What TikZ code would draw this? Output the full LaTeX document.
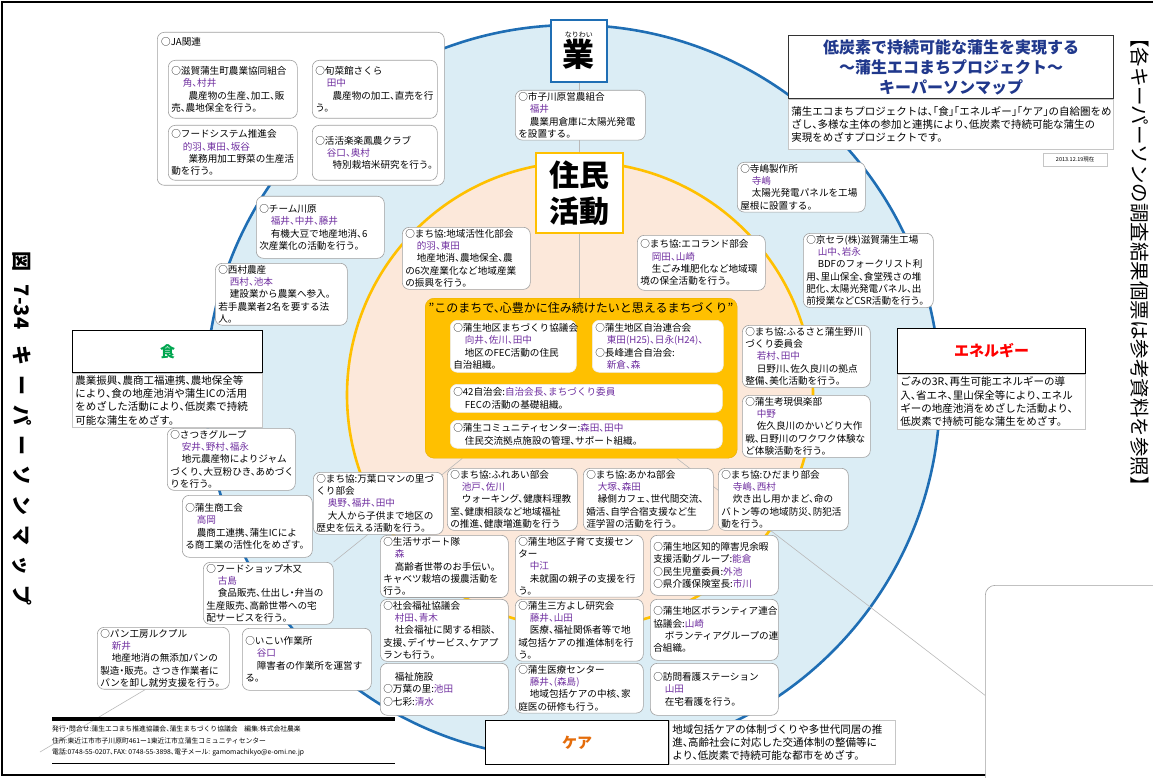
\documentclass[tikz,border=0pt]{standalone}
\usepackage{fontspec}
\setmainfont{Noto Sans CJK JP}[RawFeature=+halt]
\newfontfamily\jpfull{Noto Sans CJK JP}

\definecolor{ringblue}{RGB}{31,110,180}
\definecolor{ringfill}{RGB}{219,237,245}
\definecolor{ringgold}{RGB}{255,192,0}
\definecolor{peach}{RGB}{252,232,218}
\definecolor{coreorange}{RGB}{255,192,0}
\definecolor{namecol}{RGB}{112,48,160}
\definecolor{titlenavy}{RGB}{32,56,140}
\definecolor{shokugreen}{RGB}{0,166,80}
\definecolor{carecol}{RGB}{228,108,10}
\definecolor{boxgray}{RGB}{160,160,160}

\newcommand{\kpfont}{\fontsize{9.6}{12.3}\selectfont}
\newcommand{\descfont}{\fontsize{10.5}{13.3}\selectfont}
\newcommand{\nm}[1]{\textcolor{namecol}{#1}}
\newcommand{\ind}{\hspace*{1.2em}}
\newcommand{\indd}{\hspace*{1.8em}}

\pgfdeclarelayer{back}
\pgfdeclarelayer{links}
\pgfsetlayers{back,links,main}

\tikzset{
  kp/.style={draw=boxgray, fill=white, rounded corners=7pt, line width=0.6pt,
    anchor=north west, align=left, inner xsep=3pt, inner ysep=2pt,
    text width=#1, font=\kpfont},
  inbox/.style={kp=#1, draw=white!85!gray},
  descbox/.style={draw=gray!45, fill=white, line width=0.6pt, anchor=north west,
    align=left, inner xsep=3pt, inner ysep=2pt, text width=#1, font=\descfont},
  themebox/.style={draw=black, line width=1pt, fill=white, anchor=north west,
    font=\fontsize{15}{16}\selectfont\bfseries},
  link/.style={draw=gray!55, line width=0.6pt}
}

\begin{document}
\begin{tikzpicture}[x=1pt,y=-1pt]
\useasboundingbox (0,0) rectangle (1153,778);

\begin{pgfonlayer}{back}
\path[draw=ringblue, line width=2.6pt, fill=ringfill] (573,392) circle[radius=367pt];
\path[draw=ringgold, line width=2.6pt, fill=peach] (580,395) circle[radius=233pt];
\end{pgfonlayer}

% frame and captions
\path[draw, line width=2.4pt] (1153,2) -- (2,2) -- (2,775) -- (1153,775);
\node[rotate=-90, font=\jpfull\fontsize{20}{20}\selectfont\bfseries] (figcap) at (22,428) {図\hspace{0.7em}7-34\hspace{0.8em}{\addfontfeature{LetterSpace=50}キーパーソンマップ}};
\node[rotate=-90, font=\jpfull\fontsize{19.5}{20}\selectfont] (refnote) at (1140,262) {【各キーパーソンの調査結果個票は参考資料を参照】};

% title
\node[draw=black!80, line width=1.2pt, fill=white, anchor=north west, minimum width=325pt, minimum height=63pt, align=center, text=titlenavy, font=\fontsize{16}{20}\selectfont\bfseries] (title) at (788,35) {低炭素で持続可能な蒲生を実現する\\～蒲生エコまちプロジェクト～\\キーパーソンマップ};
\node[descbox=319pt, minimum height=50pt] (titledesc) at (title.south west) {蒲生エコまちプロジェクトは、「食」「エネルギー」「ケア」の自給圏をめ\\ざし、多様な主体の参加と連携により、低炭素で持続可能な蒲生の\\実現をめざすプロジェクトです。};
\node[draw=gray!45, fill=white, anchor=north west, minimum width=64pt, minimum height=13pt, inner sep=1pt, font=\fontsize{5.5}{6}\selectfont] (stamp) at (1043,153) {2013.12.19現在};

% centre
\node[draw=ringblue, line width=1.6pt, fill=white, minimum width=56pt, minimum height=62pt, anchor=north west, align=center, inner sep=0pt] (nariwai) at (550,19) {{\fontsize{7}{8}\selectfont なりわい}\\[1pt]{\fontsize{32}{34}\selectfont\bfseries 業}};
\node[draw=ringgold, line width=1.6pt, fill=white, minimum width=87pt, minimum height=80pt, anchor=north west, align=center, inner sep=0pt, font=\fontsize{30}{36}\selectfont\bfseries] (jumin) at (535,152) {住民\\活動};

\node[draw=coreorange!90!black, fill=coreorange, rounded corners=9pt, minimum width=312pt, minimum height=160pt, anchor=north west] (core) at (425,298) {};
\node[anchor=north, inner sep=0pt, font=\fontsize{12}{14}\selectfont] (coretitle) at (581,302) {"このまちで、心豊かに住み続けたいと思えるまちづくり"};
\node[inbox=120pt, minimum height=52pt] (kyogikai) at (450,320) {○蒲生地区まちづくり協議会\\\nm{\ind 向井、佐川、田中}\\\ind 地区のFEC活動の住民\\自治組織。};
\node[inbox=125pt, minimum height=52pt] (rengo) at (592,320) {○蒲生地区自治連合会\\\nm{\ind 東田(H25)、日永(H24)、}\\○長峰連合自治会:\\\nm{\ind 新倉、森}};
\node[inbox=266pt, minimum height=28pt] (jichi42) at (450,384) {○42自治会:\nm{自治会長、まちづくり委員}\\\ind FECの活動の基礎組織。};
\node[inbox=266pt, minimum height=28pt] (comcen) at (450,420) {○蒲生コミュニティセンター:\nm{森田、田中}\\\ind 住民交流拠点施設の管理、サポート組織。};

% JA group
\node[kp=281pt, minimum height=153pt] (ja) at (157,32) {};
\node[anchor=north west, inner sep=0pt, font=\kpfont] (jatitle) at (161,37) {○JA関連};
\node[kp=123pt, minimum height=58pt] (shiga) at (168,60) {○滋賀蒲生町農業協同組合\\\nm{\ind 角、村井}\\\indd 農産物の生産、加工、販\\売、農地保全を行う。};
\node[kp=119pt, minimum height=58pt] (shunsai) at (312,60) {○旬菜館さくら\\\nm{\ind 田中}\\\indd 農産物の加工、直売を行\\う。};
\node[kp=123pt, minimum height=55pt] (foodsys) at (168,125) {○フードシステム推進会\\\nm{\ind 的羽、東田、坂谷}\\\indd 業務用加工野菜の生産活\\動を行う。};
\node[kp=119pt, minimum height=55pt] (katsu) at (312,125) {○活活楽楽鳳農クラブ\\\nm{\ind 谷口、奥村}\\\indd 特別栽培米研究を行う。};

% upper ring
\node[kp=124pt] (ichiko) at (515,90) {○市子川原営農組合\\\nm{\ind 福井}\\\ind 農業用倉庫に太陽光発電\\を設置する。};
\node[kp=122pt, minimum height=62pt] (kawara) at (256,196) {○チーム川原\\\nm{\ind 福井、中井、藤井}\\\ind 有機大豆で地産地消、6\\次産業化の活動を行う。};
\node[kp=126pt] (nishimura) at (215,263) {○西村農産\\\nm{\ind 西村、池本}\\\ind 建設業から農業へ参入。\\若手農業者2名を要する法\\人。};
\node[kp=122pt] (kassei) at (402,227) {○まち協:地域活性化部会\\\nm{\ind 的羽、東田}\\\ind 地産地消、農地保全、農\\の6次産業化など地域産業\\の振興を行う。};
\node[kp=122pt, minimum height=55pt] (ecoland) at (637,235) {○まち協:エコランド部会\\\nm{\ind 岡田、山崎}\\\ind 生ごみ堆肥化など地域環\\境の保全活動を行う。};
\node[kp=122pt] (terashima) at (737,162) {○寺嶋製作所\\\nm{\ind 寺嶋}\\\ind 太陽光発電パネルを工場\\屋根に設置する。};
\node[kp=124pt] (kyocera) at (803,233) {○京セラ(株)滋賀蒲生工場\\\nm{\ind 山中、岩永}\\\ind BDFのフォークリスト利\\用、里山保全、食堂残さの堆\\肥化、太陽光発電パネル、出\\前授業などCSR活動を行う。};
\node[kp=122pt] (furusato) at (742,325) {○まち協:ふるさと蒲生野川\\づくり委員会\\\nm{\ind 若村、田中}\\\ind 日野川、佐久良川の拠点\\整備、美化活動を行う。};
\node[kp=122pt] (kogen) at (742,395) {○蒲生考現倶楽部\\\nm{\ind 中野}\\\ind 佐久良川のかいどり大作\\戦、日野川のワクワク体験な\\ど体験活動を行う。};

% themes
\node[themebox, minimum width=190pt, minimum height=42pt, text=shokugreen] (shoku) at (72,330) {食};
\node[descbox=184pt, minimum height=54pt] (shokudesc) at (shoku.south west) {農業振興、農商工福連携、農地保全等\\により、食の地産池消や蒲生ICの活用\\をめざした活動により、低炭素で持続\\可能な蒲生をめざす。};
\node[themebox, minimum width=188pt, minimum height=45pt, text=red] (energy) at (897,328) {エネルギー};
\node[descbox=182pt, minimum height=55pt] (energydesc) at (energy.south west) {ごみの3R、再生可能エネルギーの導\\入、省エネ、里山保全等により、エネル\\ギーの地産池消をめざした活動より、\\低炭素で持続可能な蒲生をめざす。};
\node[themebox, minimum width=183pt, minimum height=44pt, text=carecol] (care) at (485,720) {ケア};
\node[descbox=220pt, minimum height=44pt] (caredesc) at (care.north east) {地域包括ケアの体制づくりや多世代同居の推\\進、高齢社会に対応した交通体制の整備等に\\より、低炭素で持続可能な都市をめざす。};

% left chain
\node[kp=122pt] (satsuki) at (167,428) {○さつきグループ\\\nm{\ind 安井、野村、福永}\\\ind 地元農産物によりジャム\\づくり、大豆粉ひき、あめづく\\りを行う。};
\node[kp=124pt, minimum height=62pt] (shokokai) at (182,495) {○蒲生商工会\\\nm{\ind 高岡}\\\ind 農商工連携、蒲生ICによ\\る商工業の活性化をめざす。};
\node[kp=124pt] (foodshop) at (203,562) {○フードショップ木又\\\nm{\ind 古島}\\\ind 食品販売、仕出し・弁当の\\生産販売、高齢世帯への宅\\配サービスを行う。};
\node[kp=126pt] (pan) at (97,627) {○パン工房ルクプル\\\nm{\ind 新井}\\\ind 地産地消の無添加パンの\\製造・販売。 さつき作業者に\\パンを卸し就労支援を行う。};
\node[kp=123pt, minimum height=62pt] (ikoi) at (242,628) {○いこい作業所\\\nm{\ind 谷口}\\\ind 障害者の作業所を運営す\\る。};

% lower ring
\node[kp=124pt] (manyo) at (313,472) {○まち協:万葉ロマンの里づ\\くり部会\\\nm{\ind 奥野、福井、田中}\\\ind 大人から子供まで地区の\\歴史を伝える活動を行う。};
\node[kp=124pt] (fureai) at (447,468) {○まち協:ふれあい部会\\\nm{\ind 池戸、佐川}\\\ind ウォーキング、健康料理教\\室、健康相談など地域福祉\\の推進、健康増進動を行う};
\node[kp=124pt] (akane) at (583,468) {○まち協:あかね部会\\\nm{\ind 大塚、森田}\\\ind 縁側カフェ、世代間交流、\\婚活、自学合宿支援など生\\涯学習の活動を行う。};
\node[kp=124pt] (hidamari) at (718,468) {○まち協:ひだまり部会\\\nm{\ind 寺嶋、西村}\\\ind 炊き出し用かまど、命の\\バトン等の地域防災、防犯活\\動を行う。};
\node[kp=122pt] (seikatsu) at (380,535) {○生活サポート隊\\\nm{\ind 森}\\\ind 高齢者世帯のお手伝い。\\キャベツ栽培の援農活動を\\行う。};
\node[kp=122pt] (kosodate) at (515,535) {○蒲生地区子育て支援セン\\ター\\\nm{\ind 中江}\\\ind 未就園の親子の支援を行\\う。};
\node[kp=122pt, minimum height=60pt] (chiteki) at (650,535) {○蒲生地区知的障害児余暇\\支援活動グループ:\nm{能倉}\\○民生児童委員:\nm{外池}\\○県介護保険室長:\nm{市川}};
\node[kp=122pt] (shakyo) at (380,599) {○社会福祉協議会\\\nm{\ind 村田、青木}\\\ind 社会福祉に関する相談、\\支援、デイサービス、ケアプ\\ランも行う。};
\node[kp=122pt] (sanpo) at (515,599) {○蒲生三方よし研究会\\\nm{\ind 藤井、山田}\\\ind 医療、福祉関係者等で地\\域包括ケアの推進体制を行\\う。};
\node[kp=122pt, minimum height=61pt] (volunteer) at (650,599) {○蒲生地区ボランティア連合\\協議会:\nm{山崎}\\\ind ボランティアグループの連\\合組織。};
\node[kp=122pt, minimum height=52pt] (fukushi) at (380,663) {\ind 福祉施設\\○万葉の里:\nm{池田}\\○七彩:\nm{清水}};
\node[kp=122pt] (iryo) at (515,663) {○蒲生医療センター\\\nm{\ind 藤井、(森島)}\\\ind 地域包括ケアの中核、家\\庭医の研修も行う。};
\node[kp=122pt, minimum height=52pt] (homon) at (650,663) {○訪問看護ステーション\\\nm{\ind 山田}\\\ind 在宅看護を行う。};

% next page edge
\node[draw=boxgray, fill=white, rounded corners=10pt, line width=0.6pt, minimum width=200pt, minimum height=220pt, anchor=north west] (nextpage) at (985,585) {};

% footer
\path[draw, line width=4pt] (52,719) -- (395,719);
\path[draw, line width=0.8pt] (52,763) -- (395,763);
\node[anchor=north west, align=left, inner sep=0pt, font=\fontsize{6.8}{11.5}\selectfont] (footer) at (52,726) {発行・問合せ:蒲生エコまち推進協議会、蒲生まちづくり協議会　編集:株式会社農楽\\住所:東近江市市子川原町461ー1東近江市立蒲生コミュニティセンター\\電話:0748-55-0207、FAX: 0748-55-3898、電子メール: gamomachikyo@e-omi.ne.jp};

\coordinate (panend) at (40,752);

\begin{pgfonlayer}{links}
\path[link] (nariwai.south) -- (nariwai.south |- core.north);
\path[link] (core.214) -- (foodshop.north east);
\path[link] (core.-40) -- (nextpage.west);
\path[link] (pan.-120) -- (panend);
\end{pgfonlayer}
\end{tikzpicture}
\end{document}
